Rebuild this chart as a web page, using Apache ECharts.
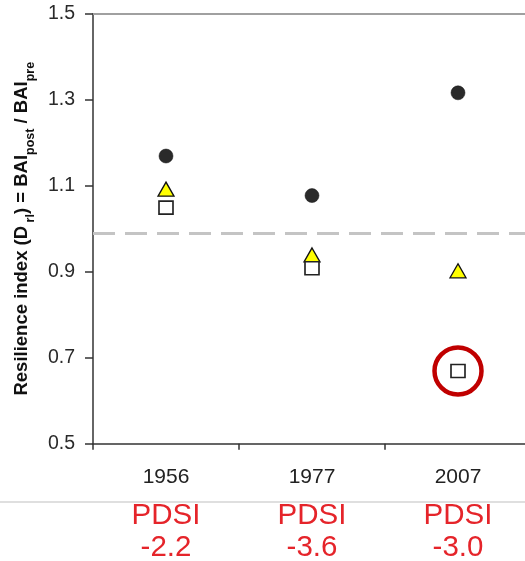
<!DOCTYPE html>
<html>
<head>
<meta charset="utf-8">
<script src="https://cdn.jsdelivr.net/npm/echarts@6/dist/echarts.min.js"></script>
<style>html,body{margin:0;padding:0;background:#fff;}#chart{width:525px;height:561px;}</style>
</head>
<body>
<div id="chart"></div>
<script>
const years = ['1956', '1977', '2007'];
const pdsi = ['-2.2', '-3.6', '-3.0'];
const circleValues = [1.169, 1.077, 1.316];
const triangleValues = [1.092, 0.939, 0.902];
const squareValues = [1.049, 0.908, 0.669];
const highlighted = [{ year: '2007', value: 0.669 }];
const referenceLine = 0.995;
const yTicks = { min: 0.5, max: 1.5, interval: 0.2 };

const chart = echarts.init(document.getElementById('chart'));
const font = 'Liberation Sans, Arial, sans-serif';

chart.setOption({
  animation: false,
  grid: { left: 93, width: 438, top: 13.7, height: 430, containLabel: false, outerBoundsMode: 'none' },
  xAxis: {
    type: 'category',
    data: years,
    boundaryGap: true,
    axisLine: { lineStyle: { color: '#333', width: 1.5 } },
    axisTick: { show: true, length: 6, lineStyle: { color: '#333', width: 1.5 } },
    axisLabel: {
      margin: 22,
      formatter: function (v, i) {
        return '{y|' + v + '}\n{g| }\n{p|PDSI}\n{p|' + pdsi[i] + '}';
      },
      rich: {
        y: { fontFamily: font, fontSize: 21, lineHeight: 24, color: '#222' },
        g: { fontSize: 4, lineHeight: 10 },
        p: { fontFamily: font, fontSize: 29.5, lineHeight: 32, color: '#E5242A' }
      }
    },
    splitLine: { show: false }
  },
  yAxis: {
    type: 'value',
    min: yTicks.min,
    max: yTicks.max,
    interval: yTicks.interval,
    axisLine: { show: true, lineStyle: { color: '#333', width: 1.5 } },
    axisTick: { show: true, length: 8, lineStyle: { color: '#333', width: 1.5 } },
    splitLine: { show: false },
    axisLabel: {
      margin: 18,
      fontFamily: font,
      fontSize: 19.5,
      color: '#2a2a2a',
      formatter: function (v) { return v.toFixed(1); }
    },
    name: '{b|Resilience index (D}{s| rl}{b|) = BAI}{s|post}{b| / BAI}{s|pre}',
    nameLocation: 'middle',
    nameGap: 54,
    nameRotate: 90,
    nameTextStyle: {
      rich: {
        b: { fontFamily: font, fontSize: 18.5, fontWeight: 'bold', color: '#111', lineHeight: 22 },
        s: { fontFamily: font, fontSize: 12.5, fontWeight: 'bold', color: '#111', lineHeight: 13, verticalAlign: 'bottom', padding: [0, 0, -4, 0] }
      }
    }
  },
  graphic: [
    {
      type: 'line',
      shape: { x1: 0, y1: 502, x2: 525, y2: 502 },
      style: { stroke: '#d4d4d4', lineWidth: 1.5 },
      silent: true
    }
  ],
  series: [
    {
      type: 'scatter',
      name: 'frame',
      data: [],
      markLine: {
        silent: true,
        symbol: 'none',
        label: { show: false },
        data: [
          { yAxis: yTicks.max, lineStyle: { color: '#a0a0a0', width: 2, type: 'solid' } },
          { yAxis: referenceLine, lineStyle: { color: '#c4c4c4', width: 3, type: [22, 10] } }
        ]
      }
    },
    {
      type: 'scatter',
      name: 'circle',
      data: circleValues,
      symbol: 'circle',
      symbolSize: 14,
      itemStyle: { color: '#2a2a2a', borderColor: '#111', borderWidth: 0.5, opacity: 1 }
    },
    {
      type: 'scatter',
      name: 'triangle',
      data: triangleValues,
      symbol: 'triangle',
      symbolSize: [16, 14],
      itemStyle: { color: '#FFFF00', borderColor: '#111', borderWidth: 1.3, opacity: 1 }
    },
    {
      type: 'scatter',
      name: 'square',
      data: squareValues,
      symbol: 'rect',
      symbolSize: [14, 13],
      itemStyle: { color: '#ffffff', borderColor: '#222', borderWidth: 1.6, opacity: 1 }
    },
    {
      type: 'scatter',
      name: 'highlight',
      data: highlighted.map(function (d) { return [d.year, d.value]; }),
      symbol: 'circle',
      symbolSize: 47,
      itemStyle: { color: 'rgba(0,0,0,0)', borderColor: '#C00000', borderWidth: 4.5, opacity: 1 },
      z: 1
    }
  ]
});
</script>
</body>
</html>
